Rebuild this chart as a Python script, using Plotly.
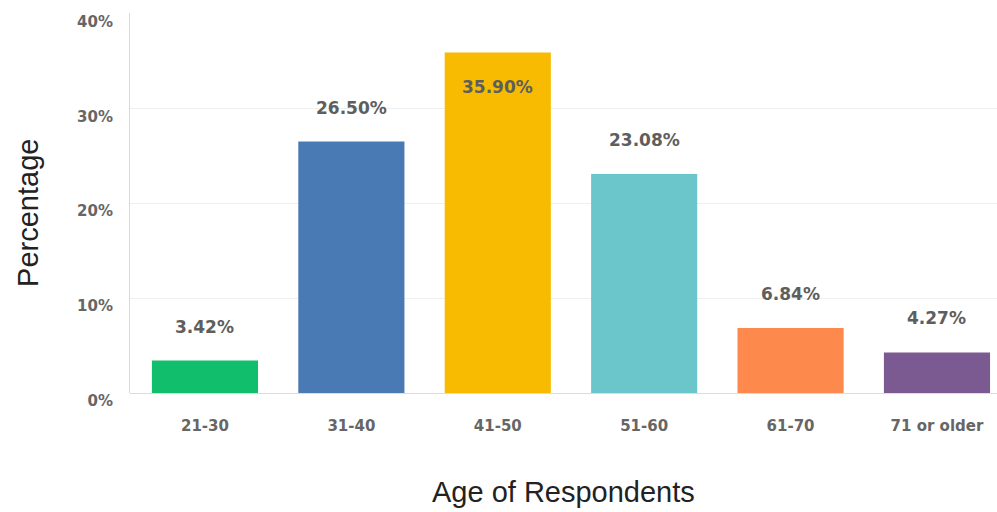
import plotly.graph_objects as go

# Survey: age distribution of respondents
age_groups = ["21-30", "31-40", "41-50", "51-60", "61-70", "71 or older"]
percentages = [3.42, 26.50, 35.90, 23.08, 6.84, 4.27]
bar_colors = ["#10be6b", "#4a7ab4", "#f8bb02", "#6bc6cb", "#fd8a4c", "#7b5a92"]
y_ticks = [0, 10, 20, 30, 40]

fig = go.Figure()
fig.add_trace(go.Bar(
    x=list(range(len(age_groups))),
    y=percentages,
    marker=dict(color=bar_colors, line=dict(width=0)),
    width=0.725,
    hoverinfo="skip",
))

# value labels: above each bar, inside the tallest one
for i, v in enumerate(percentages):
    inside = v == max(percentages)
    fig.add_annotation(
        x=i, y=v, text=f"{v:.2f}%", showarrow=False,
        yshift=-35 if inside else 34,
        font=dict(family="DejaVu Sans", size=17, color="#5e5e5e", weight="bold"),
    )

title_font = dict(family="Liberation Sans", size=29, color="#222222")
fig.add_annotation(text="Percentage", textangle=-90, showarrow=False,
                   xref="paper", yref="paper", x=-0.1176, y=0.474,
                   xanchor="center", yanchor="middle", font=title_font)
fig.add_annotation(text="Age of Respondents", showarrow=False,
                   xref="paper", yref="paper", x=0.5, y=-0.26,
                   xanchor="center", yanchor="middle", font=title_font)

label_font = dict(family="DejaVu Sans", size=15, color="#666666", weight="bold")

fig.update_layout(
    width=997, height=512,
    margin=dict(l=130, r=0, t=13, b=119),
    paper_bgcolor="white", plot_bgcolor="white",
    showlegend=False,
    xaxis=dict(
        tickmode="array", tickvals=list(range(len(age_groups))), ticktext=age_groups,
        range=[-0.512, 5.41], tickfont=label_font, ticklabelstandoff=22,
        showgrid=False, zeroline=False, showline=False, ticks="",
    ),
    yaxis=dict(
        tickmode="array", tickvals=y_ticks, ticktext=[f"{t}%" for t in y_ticks],
        range=[0, 40.05], tickfont=label_font, ticklabelstandoff=13, ticklabelshift=8,
        showgrid=True, gridcolor="#efefef", gridwidth=1,
        zeroline=True, zerolinecolor="#dcdcdc", zerolinewidth=1,
        showline=True, linecolor="#d8d8d8", linewidth=1, ticks="",
    ),
)

fig.write_html("out.html")
